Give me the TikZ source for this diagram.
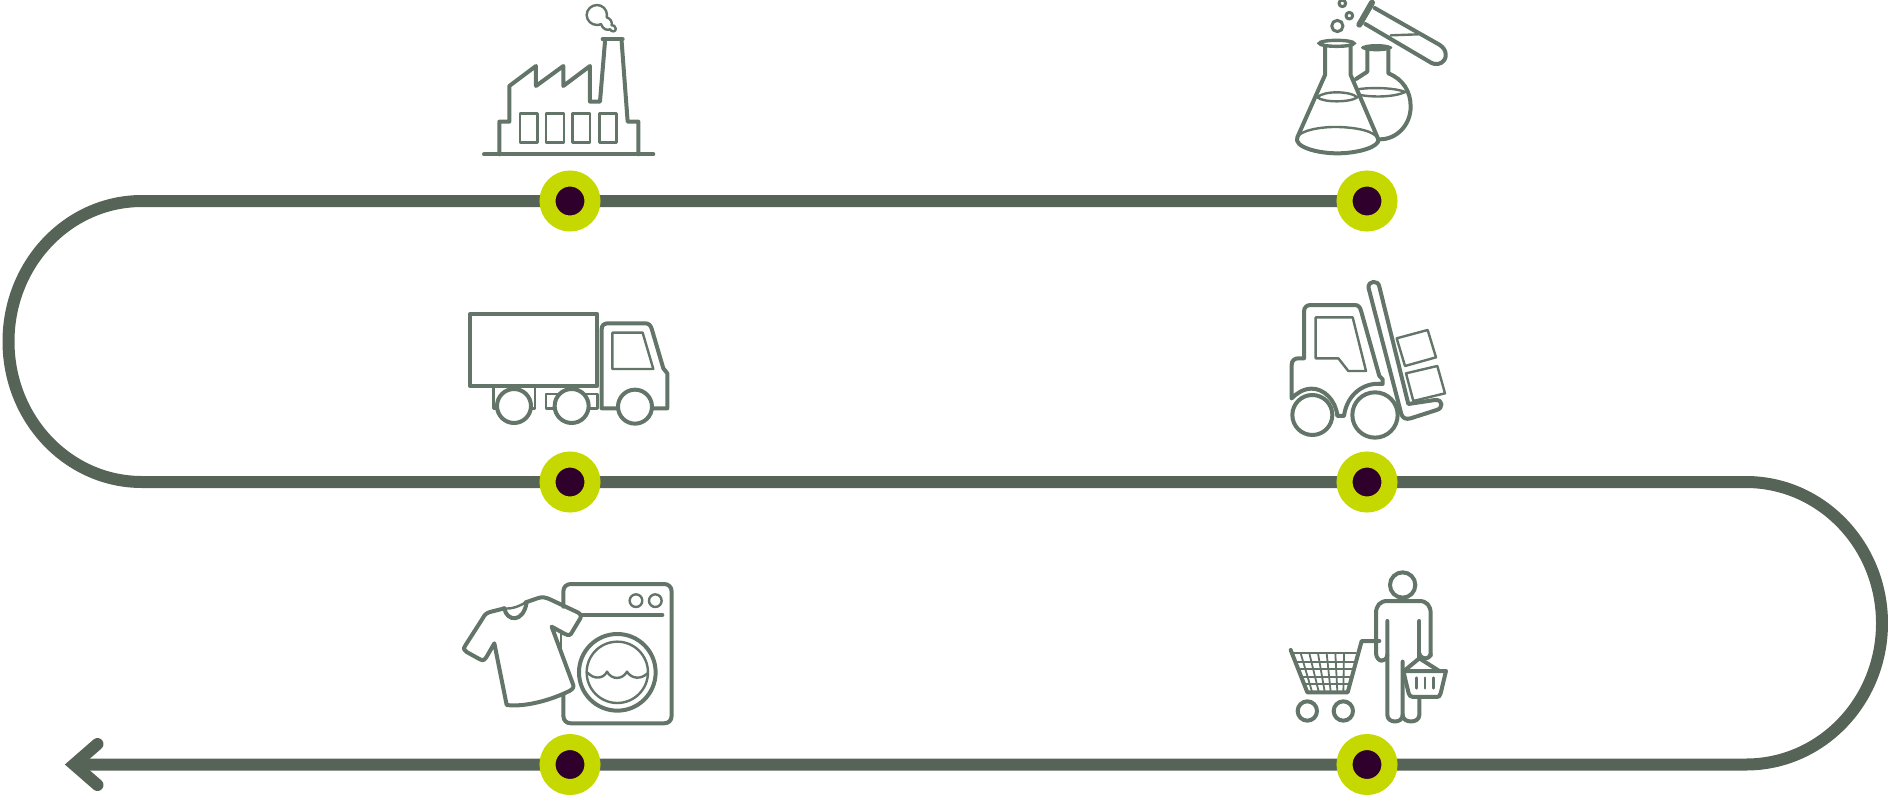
\documentclass[tikz,border=0pt]{standalone}
\definecolor{trackcol}{HTML}{566357}
\definecolor{iconcol}{HTML}{637468}
\definecolor{lime}{HTML}{C5D900}
\definecolor{plum}{HTML}{2E002B}
\tikzset{
  tracksty/.style={draw=trackcol,line width=12pt,line join=round},
  headsty/.style={draw=trackcol,line width=12pt,line cap=round,line join=miter,miter limit=10},
  dotsty/.style={circle,draw=lime,fill=plum,line width=16pt,minimum size=45pt,inner sep=0pt,outer sep=0pt},
  iconline/.style={draw=iconcol,line width=4pt,line join=round,line cap=round},
  iconthin/.style={draw=iconcol,line width=2.4pt,line join=round,line cap=round},
  iconhair/.style={draw=iconcol,line width=1.8pt,line join=round,line cap=round},
  hide/.style={fill=white}
}
\begin{document}
\begin{tikzpicture}[x=1pt,y=-1pt]
\useasboundingbox (0,0) rectangle (1888,796);
% ---- route
\coordinate (p1) at (570,201);
\coordinate (p2) at (1367,201);
\coordinate (p3) at (570,482);
\coordinate (p4) at (1367,482);
\coordinate (p5) at (570,764.5);
\coordinate (p6) at (1367,764.5);
\coordinate (tipc) at (74,764.5);
\coordinate (headU) at (97.5,744);
\coordinate (headL) at (97.5,785);
\draw[tracksty] (p2) -- (p1) -- (142,201)
  .. controls (68,201) and (8.5,263.9) .. (8.5,341.5)
  .. controls (8.5,419.1) and (68,482) .. (142,482)
  -- (p3) -- (p4) -- (1746,482)
  .. controls (1821.1,482) and (1882,545.25) .. (1882,623.25)
  .. controls (1882,701.25) and (1821.1,764.5) .. (1746,764.5)
  -- (p6) -- (p5) -- (tipc);
\draw[headsty] (headU) -- (tipc) -- (headL);
\node[dotsty] (d1) at (p1) {};
\node[dotsty] (d2) at (p2) {};
\node[dotsty] (d3) at (p3) {};
\node[dotsty] (d4) at (p4) {};
\node[dotsty] (d5) at (p5) {};
\node[dotsty] (d6) at (p6) {};

% ---- factory
\begin{scope}[shift={(470,0)},x=0.3333pt,y=-0.3333pt]
\draw[iconline] (42,463) -- (550,463);
\draw[iconline] (88,463) -- (88,365) -- (118,365) -- (118,258) -- (198,198) -- (198,258) -- (280,198) -- (280,258) -- (360,198) -- (360,305) -- (390,305) -- (405,125);
\draw[iconline] (455,125) -- (473,365) -- (505,365) -- (505,463);
\draw[iconline] (398,118) -- (458,118);
\foreach \xa/\xb in {150/203,228/282,308/360,388/440}
  \draw[iconthin] (\xa,340) rectangle (\xb,428);
\draw[iconthin] (411,45) .. controls (411,28) and (397,15) .. (381,15)
  .. controls (365,15) and (350,28) .. (350,45)
  .. controls (350,62) and (365,75) .. (381,75)
  .. controls (385,75) and (390,74) .. (393,72)
  .. controls (398,88) and (412,92) .. (420,88)
  .. controls (425,98) and (440,95) .. (437,85)
  .. controls (436,78) and (430,74) .. (425,76)
  .. controls (428,65) and (420,55) .. (410,52) -- cycle;
\end{scope}

% ---- flasks
\begin{scope}[shift={(1280,0)},x=0.3333pt,y=-0.3333pt]
% round flask
\draw[iconline] (262,150) -- (262,215) -- (228,237);
\draw[iconline] (325,150) -- (325,220) .. controls (370,238) and (392,275) .. (392,320)
  .. controls (392,375) and (350,418) .. (300,418);
\draw[iconthin] (232,268) .. controls (270,262) and (340,262) .. (376,276);
\draw[iconthin] (240,285) .. controls (280,292) and (340,292) .. (376,276);
\fill[iconcol] (290,143) ellipse[x radius=47,y radius=11];
% erlenmeyer
\draw[iconline] (135,138) -- (135,225) -- (52,412) .. controls (40,440) and (110,460) .. (172,460)
  .. controls (235,460) and (300,440) .. (295,418) -- (212,225) -- (212,138);
\draw[iconthin] (52,412) .. controls (60,392) and (120,380) .. (172,381)
  .. controls (225,382) and (285,392) .. (295,418);
\draw[iconthin] (112,292) .. controls (130,272) and (210,272) .. (232,292)
  .. controls (210,308) and (130,308) .. (112,292);
\draw[draw=iconcol,line width=3.4pt] (170,130) ellipse[x radius=52,y radius=9];
% bubbles
\draw[iconline,line width=3pt] (172,78) circle[radius=17];
\draw[iconline,line width=3pt] (208,47) circle[radius=10];
\draw[iconline,line width=3pt] (187,10) circle[radius=10];
% tube
\draw[iconline] (284,24) -- (478,134) .. controls (505,150) and (500,180) .. (485,188)
  .. controls (470,197) and (455,190) .. (448,185) -- (256,72);
\draw[iconline,line width=6pt] (238,74) -- (276,8);
\draw[iconthin] (332,106) -- (414,103);
\end{scope}

% ---- truck
\begin{scope}[shift={(460,300)},x=0.3333pt,y=-0.3333pt]
\draw[iconline] (30,42) rectangle (412,258);
\draw[iconthin] (100,258) -- (100,325) -- (120,325);
\draw[iconthin] (225,258) -- (225,325) -- (205,325);
\draw[iconthin] (258,282) rectangle (412,325);
\draw[iconline] (470,325) -- (425,325) -- (425,88) .. controls (425,76) and (432,70) .. (444,70) -- (556,70)
  .. controls (566,70) and (572,76) .. (575,86) -- (610,205) -- (622,220) -- (622,325) -- (580,325);
\draw[iconthin] (457,98) -- (548,98) -- (580,207) -- (457,207) -- cycle;
\draw[iconline,hide] (162,318) circle[radius=51];
\draw[iconline,hide] (335,318) circle[radius=51];
\draw[iconline,hide] (525,320) circle[radius=51];
\end{scope}

% ---- forklift
\begin{scope}[shift={(1280,270)},x=0.3333pt,y=-0.3333pt]
\draw[iconline] (35,385) -- (35,285) .. controls (35,270) and (45,265) .. (55,265) -- (72,265) -- (72,125)
  .. controls (72,112) and (80,105) .. (92,105) -- (225,105) .. controls (235,105) and (240,112) .. (243,122)
  -- (298,318) -- (308,328) -- (308,342) .. controls (250,335) and (200,375) .. (192,438) -- (172,438)
  .. controls (168,390) and (130,355) .. (95,356) .. controls (70,356) and (50,370) .. (35,385);
\draw[iconline] (266,55) .. controls (262,30) and (296,30) .. (298,50) -- (385,402) -- (465,390)
  .. controls (490,388) and (490,415) .. (470,420) -- (392,445) .. controls (378,449) and (368,445) .. (364,432) -- cycle;
\draw[iconthin] (350,205) -- (443,180) -- (468,262) -- (375,288) -- cycle;
\draw[iconthin] (378,310) -- (472,288) -- (495,370) -- (400,393) -- cycle;
\draw[iconthin] (107,142) -- (218,142) -- (258,303) -- (205,303) -- (175,265) -- (107,265) -- cycle;
\draw[iconline,hide] (97,435) circle[radius=60];
\draw[iconline,hide] (285,435) circle[radius=68];
\end{scope}

% ---- washer and shirt
\begin{scope}[shift={(455,570)},x=0.3333pt,y=-0.3333pt]
\draw[iconline] (325,110) -- (325,65) .. controls (325,50) and (335,42) .. (348,42) -- (627,42)
  .. controls (640,42) and (650,50) .. (650,65) -- (650,437) .. controls (650,452) and (640,460) .. (627,460)
  -- (348,460) .. controls (335,460) and (325,452) .. (325,437) -- (325,372);
\draw[iconthin] (318,190) -- (318,238);
\draw[iconline] (378,135) -- (622,135);
\draw[iconthin] (543,92) circle[radius=19];
\draw[iconthin] (601,92) circle[radius=19];
\draw[iconline] (487,307) circle[radius=115];
\draw[iconthin] (487,307) circle[radius=92];
\draw[iconthin] (398,308) .. controls (415,328) and (445,328) .. (456,305)
  .. controls (470,330) and (502,330) .. (516,305) .. controls (530,328) and (560,328) .. (577,310);
\draw[iconline] (148,115) -- (105,126) .. controls (90,130) and (85,140) .. (80,150) -- (30,228)
  .. controls (24,236) and (28,242) .. (35,246) -- (75,268) .. controls (85,274) and (90,268) .. (95,260) -- (118,220)
  -- (155,405) .. controls (210,412) and (290,390) .. (345,362) .. controls (355,356) and (358,350) .. (353,340)
  -- (290,170) -- (330,192) .. controls (342,198) and (348,195) .. (352,185) -- (376,145)
  .. controls (380,135) and (376,132) .. (370,128) -- (285,88) .. controls (272,82) and (262,80) .. (250,84) -- (212,97);
\draw[iconline] (148,115) .. controls (155,155) and (205,160) .. (215,97);
\draw[iconthin] (148,115) .. controls (170,118) and (195,108) .. (212,97);
\end{scope}

% ---- shopper
\begin{scope}[shift={(1280,565)},x=0.3333pt,y=-0.3333pt]
\draw[iconline] (368,60) circle[radius=38];
\draw[iconline] (288,265) -- (288,145) .. controls (288,122) and (300,108) .. (322,108) -- (418,108)
  .. controls (440,108) and (452,122) .. (452,145) -- (452,272);
\draw[iconline] (288,265) .. controls (290,292) and (318,295) .. (322,270);
\draw[iconline] (322,168) -- (322,450) .. controls (322,476) and (368,476) .. (368,450) -- (368,290);
\draw[iconline] (368,450) .. controls (368,476) and (418,476) .. (418,450) -- (418,400);
\draw[iconline] (418,168) -- (418,280);
\draw[iconline] (418,265) .. controls (422,285) and (448,285) .. (452,268);
\draw[iconline] (372,318) -- (418,280) -- (478,318);
\draw[iconline] (370,318) -- (498,318) -- (482,385) .. controls (480,394) and (476,396) .. (470,396) -- (400,396)
  .. controls (392,396) and (388,392) .. (386,385) -- cycle;
\foreach \xr in {410,435,460} \draw[iconthin] (\xr,338) -- (\xr,370);
\draw[iconline] (298,228) -- (245,228) -- (203,382) -- (82,382) -- (32,255);
\foreach \ya/\xl/\xr in {265/36/228,290/46/222,312/54/216,335/63/210,358/72/204}
  \draw[iconhair] (\xl,\ya) -- (\xr,\ya);
\foreach \xt/\xb in {62/96,88/116,114/134,140/152,166/172,192/190}
  \draw[iconhair] (\xt,265) -- (\xb,380);
\draw[iconline] (82,438) circle[radius=29];
\draw[iconline] (190,438) circle[radius=29];
\end{scope}
\end{tikzpicture}
\end{document}
